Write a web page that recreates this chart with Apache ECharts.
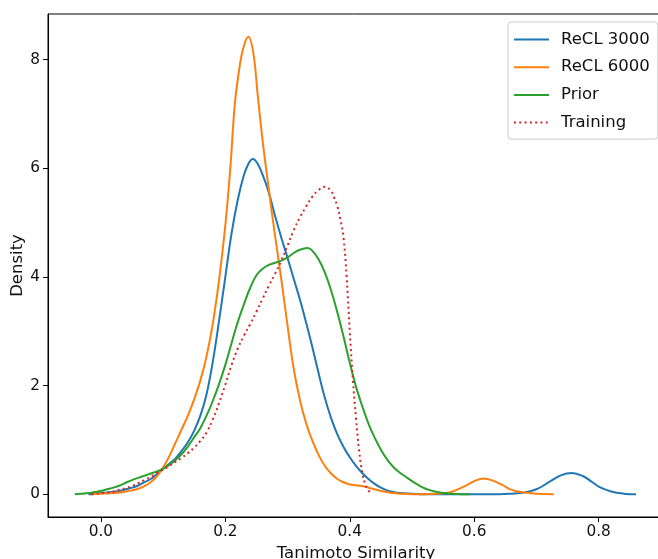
<!DOCTYPE html>
<html>
<head>
<meta charset="utf-8">
<script src="https://cdn.jsdelivr.net/npm/echarts@6/dist/echarts.min.js"></script>
<style>
html,body{margin:0;padding:0;background:#fff;}
#chart{width:658px;height:559px;}
</style>
</head>
<body>
<div id="chart"></div>
<script>
// Series names
const seriesNames = ['ReCL 3000', 'ReCL 6000', 'Prior', 'Training'];
// Tick values
const xTicks = [0.0, 0.2, 0.4, 0.6, 0.8];
const yTicks = [0, 2, 4, 6, 8];

// ReCL 3000 density curve [similarity, density]
const recl3000 = [[-0.02,0],[-0.01,0.005],[0,0.02],[0.01,0.03],[0.02,0.045],[0.03,0.06],[0.04,0.09],[0.05,0.12],[0.06,0.16],[0.07,0.22],[0.08,0.28],[0.09,0.37],[0.10,0.47],[0.11,0.56],[0.12,0.66],[0.13,0.8],[0.14,0.96],[0.15,1.17],[0.16,1.45],[0.17,1.85],[0.18,2.45],[0.19,3.2],[0.20,4.0],[0.21,4.8],[0.22,5.42],[0.23,5.88],[0.237,6.08],[0.244,6.17],[0.251,6.1],[0.26,5.88],[0.27,5.55],[0.28,5.12],[0.29,4.72],[0.30,4.35],[0.31,3.96],[0.32,3.58],[0.33,3.15],[0.34,2.7],[0.35,2.22],[0.36,1.77],[0.37,1.4],[0.38,1.1],[0.39,0.87],[0.40,0.68],[0.41,0.52],[0.42,0.39],[0.43,0.28],[0.44,0.19],[0.45,0.12],[0.46,0.07],[0.47,0.04],[0.48,0.02],[0.50,0.01],[0.52,0],[0.56,0],[0.60,0],[0.64,0],[0.66,0.01],[0.68,0.03],[0.70,0.09],[0.72,0.22],[0.74,0.35],[0.757,0.39],[0.775,0.33],[0.79,0.22],[0.80,0.14],[0.82,0.05],[0.84,0.01],[0.86,0]];

// ReCL 6000 density curve
const recl6000 = [[-0.015,0],[-0.01,0.003],[0,0.01],[0.01,0.015],[0.02,0.02],[0.03,0.03],[0.04,0.05],[0.05,0.07],[0.06,0.1],[0.07,0.15],[0.08,0.22],[0.09,0.33],[0.10,0.49],[0.11,0.7],[0.12,0.95],[0.13,1.2],[0.14,1.45],[0.15,1.75],[0.16,2.1],[0.17,2.55],[0.18,3.15],[0.19,3.95],[0.20,4.95],[0.208,6.0],[0.215,7.15],[0.222,7.8],[0.229,8.22],[0.237,8.42],[0.245,8.12],[0.252,7.35],[0.26,6.5],[0.27,5.6],[0.28,4.75],[0.29,3.95],[0.30,3.1],[0.31,2.3],[0.32,1.73],[0.33,1.3],[0.34,0.98],[0.35,0.72],[0.36,0.52],[0.37,0.38],[0.38,0.28],[0.39,0.22],[0.40,0.18],[0.41,0.165],[0.42,0.15],[0.43,0.12],[0.44,0.09],[0.45,0.06],[0.46,0.04],[0.47,0.02],[0.48,0.01],[0.50,0],[0.52,0],[0.54,0.01],[0.56,0.03],[0.58,0.12],[0.60,0.24],[0.615,0.29],[0.63,0.25],[0.645,0.17],[0.66,0.08],[0.68,0.03],[0.70,0.01],[0.728,0]];

// Prior density curve
const prior = [[-0.042,0],[-0.03,0.01],[-0.02,0.02],[-0.01,0.04],[0,0.06],[0.01,0.09],[0.02,0.12],[0.03,0.16],[0.04,0.21],[0.05,0.26],[0.06,0.3],[0.07,0.34],[0.08,0.38],[0.09,0.42],[0.10,0.47],[0.11,0.54],[0.12,0.63],[0.13,0.74],[0.14,0.88],[0.15,1.05],[0.16,1.22],[0.17,1.45],[0.18,1.72],[0.19,2.03],[0.20,2.38],[0.21,2.78],[0.22,3.17],[0.23,3.5],[0.24,3.8],[0.25,4.03],[0.26,4.15],[0.27,4.22],[0.28,4.26],[0.29,4.3],[0.30,4.36],[0.31,4.44],[0.32,4.5],[0.332,4.53],[0.34,4.48],[0.35,4.32],[0.36,4.08],[0.37,3.75],[0.38,3.35],[0.39,2.9],[0.40,2.42],[0.41,1.98],[0.42,1.62],[0.43,1.3],[0.44,1.04],[0.45,0.82],[0.46,0.64],[0.47,0.5],[0.48,0.4],[0.49,0.32],[0.50,0.24],[0.51,0.17],[0.52,0.11],[0.53,0.07],[0.54,0.04],[0.55,0.02],[0.56,0.01],[0.58,0],[0.593,0]];

// Training density curve
const training = [[-0.015,0],[-0.01,0.005],[0,0.02],[0.01,0.03],[0.02,0.05],[0.03,0.08],[0.04,0.11],[0.05,0.15],[0.06,0.2],[0.07,0.26],[0.08,0.32],[0.09,0.39],[0.10,0.45],[0.11,0.52],[0.12,0.6],[0.13,0.67],[0.14,0.76],[0.15,0.86],[0.16,0.98],[0.17,1.14],[0.18,1.38],[0.19,1.68],[0.20,2.02],[0.21,2.38],[0.22,2.68],[0.23,2.92],[0.24,3.13],[0.25,3.36],[0.26,3.6],[0.27,3.84],[0.28,4.06],[0.29,4.3],[0.30,4.58],[0.31,4.86],[0.32,5.1],[0.33,5.3],[0.34,5.48],[0.35,5.6],[0.36,5.66],[0.37,5.58],[0.375,5.46],[0.38,5.3],[0.385,5.06],[0.39,4.72],[0.395,4.0],[0.40,3.0],[0.405,2.1],[0.41,1.4],[0.415,0.8],[0.42,0.4],[0.425,0.18],[0.43,0.07],[0.435,0]];

const colors = ['#1f77b4', '#ff7f0e', '#2ca02c', '#d62728'];
const font = 'DejaVu Sans';
const chart = echarts.init(document.getElementById('chart'), null, {renderer: 'canvas'});

function lineSeries(name, data, color, type) {
  return {
    name: name, type: 'line', data: data, smooth: 0.4,
    symbol: 'none', showSymbol: false, clip: true,
    lineStyle: {color: color, width: 2, type: type || 'solid'},
    itemStyle: {color: color},
    emphasis: {disabled: true}
  };
}

chart.setOption({
  animation: false,
  backgroundColor: '#fff',
  grid: {left: 48, top: 14, width: 616, height: 503, show: true, borderColor: '#000', borderWidth: 1,
    backgroundColor: 'transparent', containLabel: false, outerBoundsMode: 'none'},
  xAxis: {
    type: 'value', min: -0.085, max: 0.905,
    name: 'Tanimoto Similarity', nameLocation: 'middle', nameGap: 27,
    nameTextStyle: {fontFamily: font, fontSize: 16.5, color: '#111'},
    axisLine: {show: true, onZero: false, lineStyle: {color: '#000', width: 1}},
    axisTick: {show: true, length: 5, lineStyle: {color: '#000'}, customValues: xTicks},
    axisLabel: {show: true, margin: 8, fontFamily: font, fontSize: 15.3, color: '#111',
      customValues: xTicks, formatter: v => v.toFixed(1)},
    splitLine: {show: false}
  },
  yAxis: {
    type: 'value', min: -0.42, max: 8.84,
    name: 'Density', nameLocation: 'middle', nameGap: 22, nameRotate: 90, nameMoveOverlap: false,
    nameTextStyle: {fontFamily: font, fontSize: 16.5, color: '#111'},
    axisLine: {show: true, onZero: false, lineStyle: {color: '#000', width: 1}},
    axisTick: {show: true, length: 5, lineStyle: {color: '#000'}, customValues: yTicks},
    axisLabel: {show: true, margin: 8, fontFamily: font, fontSize: 15.3, color: '#111',
      customValues: yTicks, formatter: v => String(Math.round(v))},
    splitLine: {show: false}
  },
  legend: {
    data: seriesNames, orient: 'vertical', left: 508, top: 22,
    padding: [9, 8, 8, 5], itemWidth: 35, itemHeight: 14, itemGap: 10.7,
    borderColor: '#ccc', borderWidth: 1, borderRadius: 3,
    backgroundColor: 'rgba(255,255,255,0.8)',
    itemStyle: {opacity: 0},
    textStyle: {fontFamily: font, fontSize: 16.5, color: '#111', padding: [0, 0, 0, 7]},
    selectedMode: false
  },
  series: [
    lineSeries(seriesNames[0], recl3000, colors[0]),
    lineSeries(seriesNames[1], recl6000, colors[1]),
    lineSeries(seriesNames[2], prior, colors[2]),
    lineSeries(seriesNames[3], training, colors[3], [2, 3.3])
  ]
});
</script>
</body>
</html>
